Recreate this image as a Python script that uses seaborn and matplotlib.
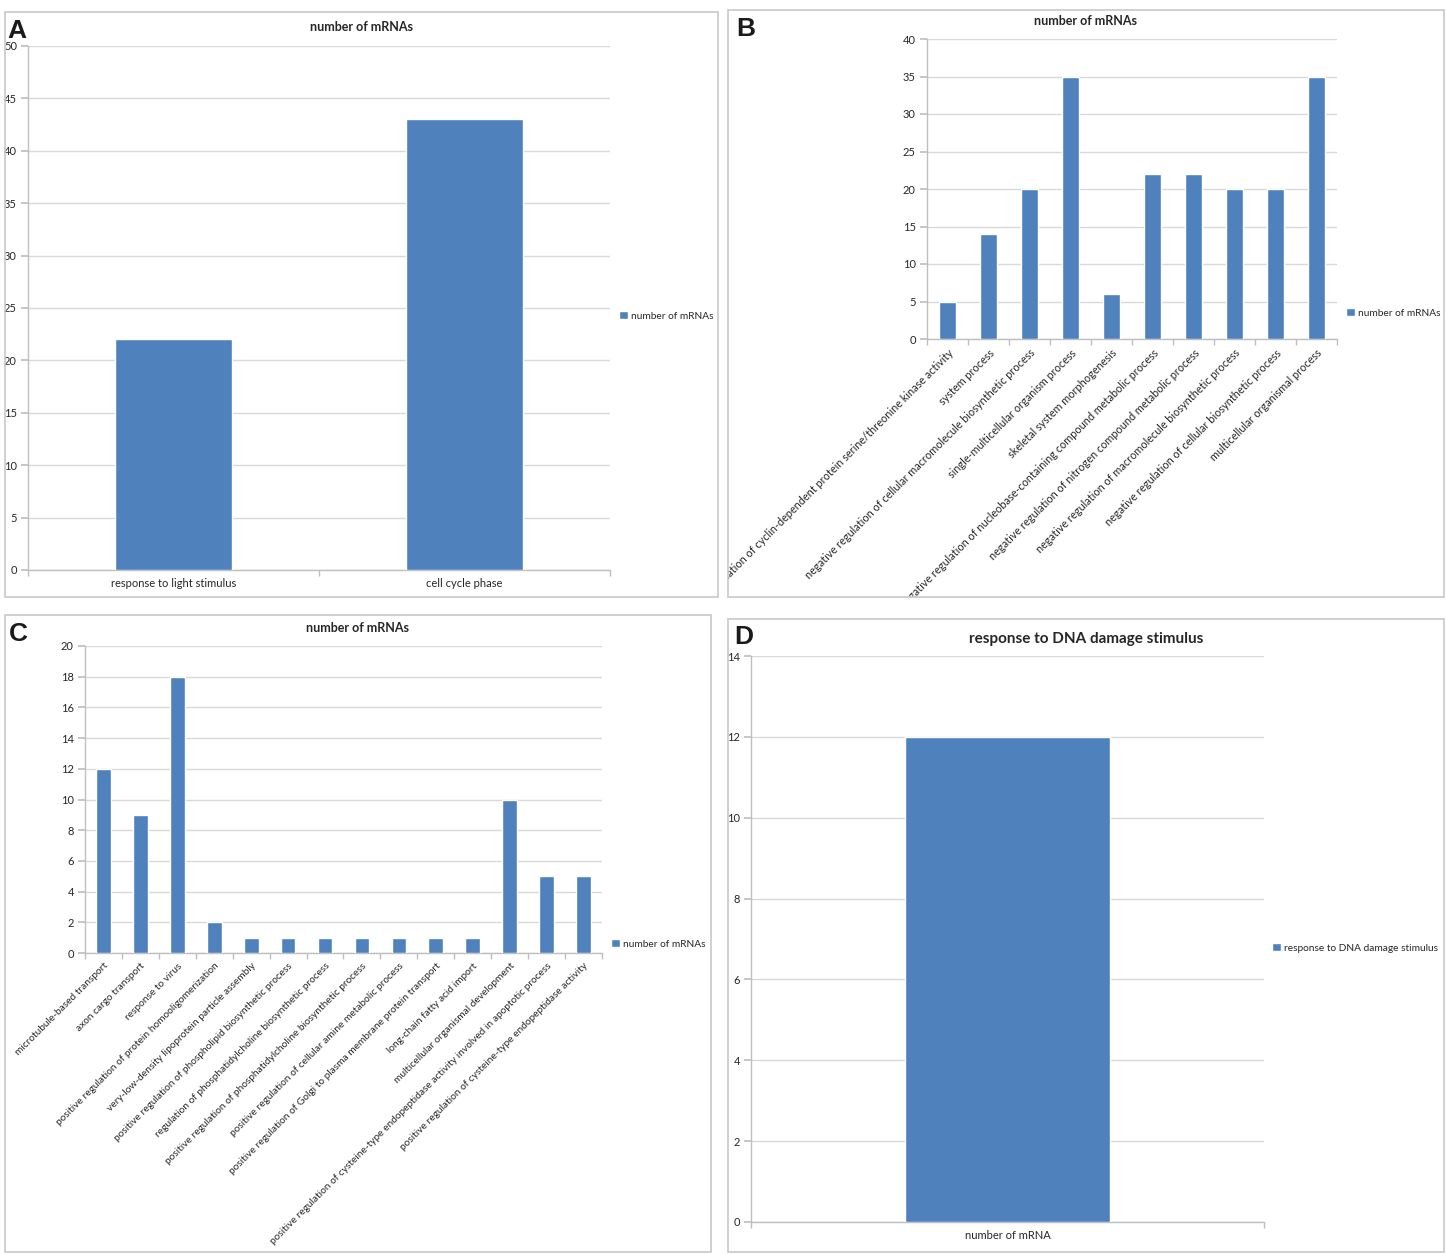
import matplotlib
matplotlib.use('Agg')
import matplotlib.pyplot as plt
import seaborn as sns
import pandas as pd
from matplotlib.patches import Rectangle

# ---- data ----
a_terms = ['response to light stimulus', 'cell cycle phase']
a_counts = [22, 43]

b_terms = ['negative regulation of cyclin-dependent protein serine/threonine kinase activity',
           'system process',
           'negative regulation of cellular macromolecule biosynthetic process',
           'single-multicellular organism process',
           'skeletal system morphogenesis',
           'negative regulation of nucleobase-containing compound metabolic process',
           'negative regulation of nitrogen compound metabolic process',
           'negative regulation of macromolecule biosynthetic process',
           'negative regulation of cellular biosynthetic process',
           'multicellular organismal process']
b_counts = [5, 14, 20, 35, 6, 22, 22, 20, 20, 35]

c_terms = ['microtubule-based transport',
           'axon cargo transport',
           'response to virus',
           'positive regulation of protein homooligomerization',
           'very-low-density lipoprotein particle assembly',
           'positive regulation of phospholipid biosynthetic process',
           'regulation of phosphatidylcholine biosynthetic process',
           'positive regulation of phosphatidylcholine biosynthetic process',
           'positive regulation of cellular amine metabolic process',
           'positive regulation of Golgi to plasma membrane protein transport',
           'long-chain fatty acid import',
           'multicellular organismal development',
           'positive regulation of cysteine-type endopeptidase activity involved in apoptotic process',
           'positive regulation of cysteine-type endopeptidase activity']
c_counts = [12, 9, 18, 2, 1, 1, 1, 1, 1, 1, 1, 10, 5, 5]

d_terms = ['number of mRNA']
d_counts = [12]

BLUE = '#4F81BD'
GRID = '#D9D9D9'
TXT = '#262626'

sns.set_theme(style='white')
plt.rcParams['font.family'] = ['Lato', 'DejaVu Sans']

W, H = 1446, 1254
fig = plt.figure(figsize=(W / 100, H / 100), dpi=100)
fig.patch.set_facecolor('white')


def rect(l, t, r, b):
    return [l / W, 1 - b / H, (r - l) / W, (b - t) / H]


# panel frames (pixels: left, top, right, bottom)
frames = {'A': (5, 12, 718, 597), 'B': (728, 10, 1444, 597),
          'C': (5, 615, 711, 1252), 'D': (728, 619, 1444, 1252)}
for key, (l, t, r, b) in frames.items():
    fig.patches.append(Rectangle((l / W, 1 - b / H), (r - l) / W, (b - t) / H,
                                 transform=fig.transFigure, fill=False,
                                 edgecolor='#C8C8C8', lw=1.2, zorder=0))

letters = {'A': (7, 38), 'B': (736, 36), 'C': (9, 641), 'D': (734, 644)}
for key, (x, y) in letters.items():
    fig.text(x / W, 1 - y / H, key, fontsize=19, fontweight='bold',
             family='Liberation Sans', color='#1a1a1a', va='baseline')


def panel(frame, box, terms, counts, ymax, step, title, legend_label,
          legend_xy, title_y, title_size=9, rot=0, lab_size=8):
    l, t, r, b = box
    ax = fig.add_axes(rect(l, t, r, b))
    df = pd.DataFrame({'term': terms, 'count': counts})
    sns.barplot(data=df, x='term', y='count', color=BLUE, width=0.4,
                saturation=1, ax=ax, label=legend_label, zorder=3)
    ax.set_ylim(0, ymax)
    ax.set_xlim(-0.5, len(terms) - 0.5)
    ax.set_yticks(range(0, ymax + 1, step))
    ax.yaxis.grid(True, color=GRID, lw=1, zorder=0)
    ax.set_axisbelow(True)
    for s in ['top', 'right']:
        ax.spines[s].set_visible(False)
    for s in ['left', 'bottom']:
        ax.spines[s].set_color('#BFBFBF')
        ax.spines[s].set_linewidth(1)
    ax.set_xlabel('')
    ax.set_ylabel('')
    ax.tick_params(axis='y', length=5, color='#BFBFBF', labelsize=8,
                   labelcolor=TXT, pad=3, left=True)
    ax.set_xticks([i - 0.5 for i in range(len(terms) + 1)], minor=True)
    ax.tick_params(axis='x', which='minor', length=4, color='#BFBFBF',
                   bottom=True)
    ax.tick_params(axis='x', which='major', length=0, labelsize=lab_size,
                   labelcolor=TXT, pad=6)
    if rot:
        ax.set_xticks(range(len(terms)))
        ax.set_xticklabels(terms, rotation=rot, ha='right',
                           rotation_mode='anchor')
    fl, ft, fr, fb = frames[frame]
    fig.text((fl + fr) / 2 / W, 1 - title_y / H, title, fontsize=title_size,
             fontweight='bold', color=TXT, ha='center', va='center')
    ax.legend(loc='center left',
              bbox_to_anchor=(legend_xy[0] / W, 1 - legend_xy[1] / H),
              bbox_transform=fig.transFigure, frameon=False, fontsize=7.3,
              handlelength=0.85, handleheight=0.85, handletextpad=0.3,
              borderaxespad=0, borderpad=0, labelcolor=TXT)
    return ax


ax_a = panel('A', (28, 46, 610, 570), a_terms, a_counts, 50, 5,
             'number of mRNAs', 'number of mRNAs', (619, 316), 27)
ax_b = panel('B', (927, 39, 1337, 339), b_terms, b_counts, 40, 5,
             'number of mRNAs', 'number of mRNAs', (1346, 313), 21,
             rot=45, lab_size=7.8)
ax_c = panel('C', (85, 646, 602, 953), c_terms, c_counts, 20, 2,
             'number of mRNAs', 'number of mRNAs', (611, 944), 628,
             rot=45, lab_size=7.3)
ax_d = panel('D', (751, 656, 1264, 1222), d_terms, d_counts, 14, 2,
             'response to DNA damage stimulus',
             'response to DNA damage stimulus', (1272, 948), 639,
             title_size=11)

# clip the long first label of panel B at its frame, as in the original
fl, ft, fr, fb = frames['B']
clip = Rectangle((fl / W, 1 - fb / H), (fr - fl) / W, (fb - ft) / H,
                 transform=fig.transFigure, fill=False, lw=0)
fig.patches.append(clip)
for lab in ax_b.get_xticklabels():
    lab.set_clip_path(clip)

fig.savefig('out.png', dpi=100, facecolor='white')
